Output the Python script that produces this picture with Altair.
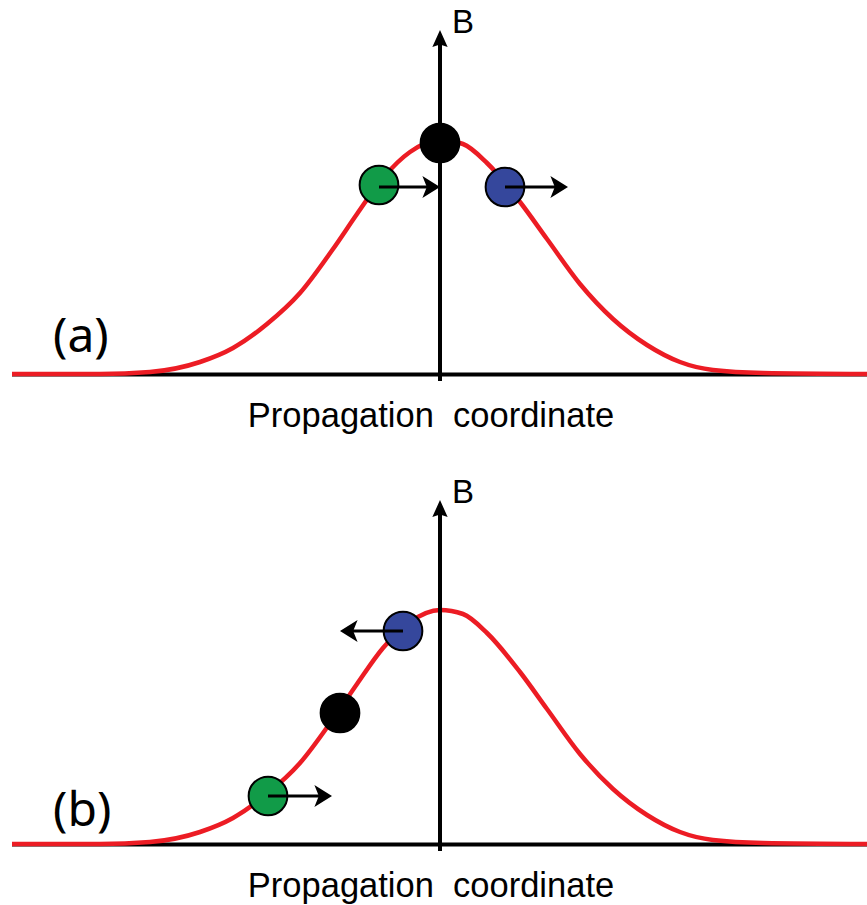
import altair as alt
import pandas as pd

# Pulse profile shared by both panels: propagation coordinate measured from the
# B axis, and field amplitude B above the baseline.
curve_x = [-428, -340, -290, -240, -207, -173, -140, -107, -83, -57, -30, 0,
           23, 47, 80, 107, 140, 173, 207, 240, 273, 323, 427]
curve_b = [0, 0, 2, 12, 26, 50, 81, 125, 160, 196, 222, 234,
           230, 211, 172, 135, 90, 55, 29, 12, 4, 1, 0]

panels = ["a", "b"]
tags = ["(a)", "(b)"]
tag_b = [22, 18]
particles = ["green", "black", "blue"]

# Panel (a): particles around the pulse peak
a_px = [-61, 0, 65]
a_pb = [189, 231, 187]
a_arrow_from = [-61, 65]
a_arrow_to = [0, 128]
a_arrow_b = [187, 187]

# Panel (b): particles on the leading edge
b_px = [-172, -100, -37]
b_pb = [48, 131, 213]
b_arrow_from = [-172, -37]
b_arrow_to = [-108, -100]
b_arrow_b = [48, 213]

axis_label = "B"
x_title = "Propagation\u00a0 coordinate"

RED = "#ec1c24"
PARTICLE_COLORS = ["#119b48", "#000000", "#35479c"]

HEAD_RIGHT = "M0,0L-1.6,-1L-1.2,0L-1.6,1Z"
HEAD_LEFT = "M0,0L1.6,-1L1.2,0L1.6,1Z"
HEAD_UP = "M0,0L-0.9,2L0,1.7L0.9,2Z"

# Both panels share one drawing; panel (b) sits 470 units lower.
PANEL_SHIFT = "datum.b - (datum.panel == 'b' ? 470 : 0)"

xs = alt.Scale(domain=[-440, 427], nice=False, zero=False)
ys = alt.Scale(domain=[-531, 374], nice=False, zero=False)
X = lambda f: alt.X(f, type="quantitative", scale=xs, axis=None)
Y = lambda f: alt.Y(f, type="quantitative", scale=ys, axis=None)


def frame(**cols):
    return pd.DataFrame(cols)


def both(df):
    return pd.concat([df.assign(panel=p) for p in panels], ignore_index=True)


baseline = alt.Chart(both(frame(x=[curve_x[0]], x2=[curve_x[-1]], b=[-0.5]))).transform_calculate(
    y=PANEL_SHIFT).mark_rule(color="black", strokeWidth=4).encode(
    x=X("x"), x2="x2", y=Y("y"))

curve = alt.Chart(both(frame(x=curve_x, b=curve_b))).transform_calculate(
    y=PANEL_SHIFT).mark_line(color=RED, strokeWidth=4.5, interpolate="monotone").encode(
    x=X("x"), y=Y("y"), detail="panel:N", order="x:Q")

vaxis = alt.Chart(both(frame(x=[0], b=[-7], b2=[330]))).transform_calculate(
    y=PANEL_SHIFT, y2="datum.b2 - (datum.panel == 'b' ? 470 : 0)").mark_rule(
    color="black", strokeWidth=4).encode(x=X("x"), y=Y("y"), y2="y2:Q")

vhead = alt.Chart(both(frame(x=[0], b=[344]))).transform_calculate(
    y=PANEL_SHIFT).mark_point(
    shape=HEAD_UP, size=289, filled=True, color="black", opacity=1,
    strokeWidth=0).encode(x=X("x"), y=Y("y"))

part_df = pd.concat([
    frame(x=a_px, b=a_pb, particle=particles, panel="a"),
    frame(x=b_px, b=b_pb, particle=particles, panel="b"),
], ignore_index=True)
dots = alt.Chart(part_df).transform_calculate(y=PANEL_SHIFT).mark_point(
    shape="circle", size=1500, filled=True, opacity=1,
    stroke="black", strokeWidth=2).encode(
    x=X("x"), y=Y("y"),
    fill=alt.Fill("particle:N",
                  scale=alt.Scale(domain=particles, range=PARTICLE_COLORS),
                  legend=None))

arr_df = pd.concat([
    frame(x=a_arrow_from, tip=a_arrow_to, b=a_arrow_b, panel="a"),
    frame(x=b_arrow_from, tip=b_arrow_to, b=b_arrow_b, panel="b"),
], ignore_index=True)
arr_df["dir"] = ["right" if t > f else "left" for f, t in zip(arr_df["x"], arr_df["tip"])]

shafts = alt.Chart(arr_df).transform_calculate(
    y=PANEL_SHIFT,
    end="datum.tip + (datum.dir == 'right' ? -8 : 8)").mark_rule(
    color="black", strokeWidth=3).encode(x=X("x"), x2="end:Q", y=Y("y"))

heads = alt.Chart(arr_df).transform_calculate(y=PANEL_SHIFT).mark_point(
    size=484, filled=True, color="black", opacity=1, strokeWidth=0).encode(
    x=X("tip"), y=Y("y"),
    shape=alt.Shape("dir:N",
                    scale=alt.Scale(domain=["right", "left"],
                                    range=[HEAD_RIGHT, HEAD_LEFT]),
                    legend=None))

blabel = alt.Chart(both(frame(x=[12], b=[341], t=[axis_label]))).transform_calculate(
    y=PANEL_SHIFT).mark_text(
    align="left", baseline="alphabetic", font="Liberation Sans",
    fontSize=33, color="black").encode(x=X("x"), y=Y("y"), text="t:N")

xlabel = alt.Chart(both(frame(x=[-9], b=[-53], t=[x_title]))).transform_calculate(
    y=PANEL_SHIFT).mark_text(
    align="center", baseline="alphabetic", font="Liberation Sans",
    fontSize=34.5, color="black").encode(x=X("x"), y=Y("y"), text="t:N")

taglabel = alt.Chart(frame(x=[-387, -387], b=tag_b, t=tags, panel=panels)).transform_calculate(
    y=PANEL_SHIFT).mark_text(
    align="left", baseline="alphabetic", font="Noto Sans",
    fontSize=48, color="black").encode(x=X("x"), y=Y("y"), text="t:N")

chart = alt.layer(
    baseline, curve, vaxis, vhead, dots, shafts, heads, blabel, xlabel, taglabel
).properties(
    width=867, height=905, padding=0, background="white",
    autosize=alt.AutoSizeParams(type="none", contains="padding"),
).configure_view(stroke=None)

chart.save("out.html", embed_options={"renderer": "svg", "actions": False})
